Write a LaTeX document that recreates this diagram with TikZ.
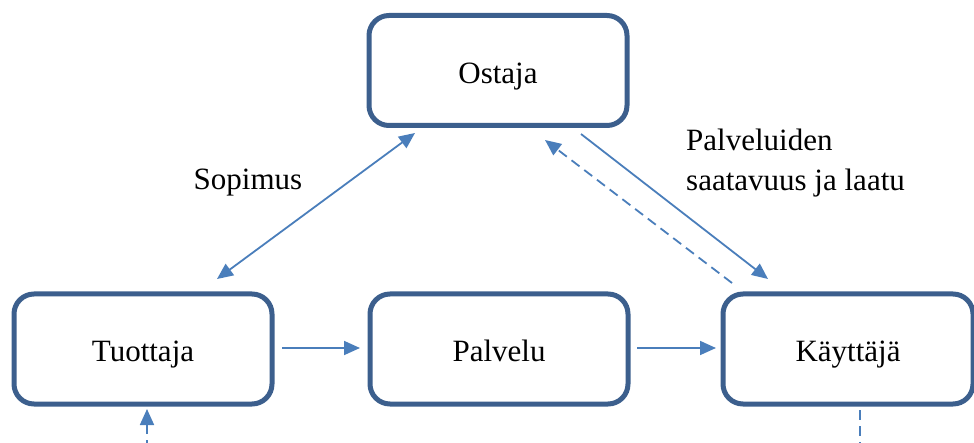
\documentclass[tikz,border=0pt]{standalone}
\usepackage{fontspec}
\setmainfont{Liberation Serif}
\usetikzlibrary{arrows.meta}
\definecolor{boxblue}{HTML}{3C5F8D}
\definecolor{arrowblue}{HTML}{4A7EBB}
\tikzset{
  box/.style={draw=boxblue, line width=5pt, rounded corners=20pt, fill=white,
    minimum width=258pt, minimum height=110pt, inner sep=0pt,
    text height=30pt, text depth=4pt,
    font=\fontsize{31}{38}\selectfont},
  tip/.tip={Triangle[length=16pt,width=14pt]},
  conn/.style={draw=arrowblue, line width=1.8pt, -tip},
  dconn/.style={conn, dash pattern=on 10pt off 6pt},
  lbl/.style={font=\fontsize{31}{40}\selectfont, inner sep=0pt}
}
\begin{document}
\begin{tikzpicture}[x=1pt,y=-1pt]
\useasboundingbox (0,0) rectangle (974,443);
\clip (0,0) rectangle (974,443);
\node[box] (ostaja) at (498,70.5) {Ostaja};
\node[box] (tuottaja) at (143,349) {Tuottaja};
\node[box] (palvelu) at (499,349) {Palvelu};
\node[box, minimum width=250pt] (kayttaja) at (848,349) {Käyttäjä};
% connector end points
\coordinate (sA) at (415,133);
\coordinate (sB) at (217,279);
\coordinate (kA) at (581,134);
\coordinate (kB) at (768,279);
\coordinate (dA) at (732,283);
\coordinate (dB) at (545,140);
\coordinate (tA) at (282,348);
\coordinate (tB) at (360,348);
\coordinate (pA) at (637,348);
\coordinate (pB) at (716,348);
\coordinate (lA) at (147,450);
\coordinate (lB) at (147,409);
\coordinate (rA) at (860,410);
\coordinate (rB) at (860,450);
\draw[conn, tip-tip] (sB) -- (sA);
\draw[conn] (kA) -- (kB);
\draw[dconn] (dA) -- (dB);
\draw[conn] (tA) -- (tB);
\draw[conn] (pA) -- (pB);
\draw[dconn] (lA) -- (lB);
\draw[dconn, -] (rA) -- (rB);
\node[lbl] (sopimus) at (248,183) {Sopimus};
\node[lbl, align=left, anchor=west] (laatu) at (686,163) {Palveluiden\\saatavuus ja laatu};
\end{tikzpicture}
\end{document}
